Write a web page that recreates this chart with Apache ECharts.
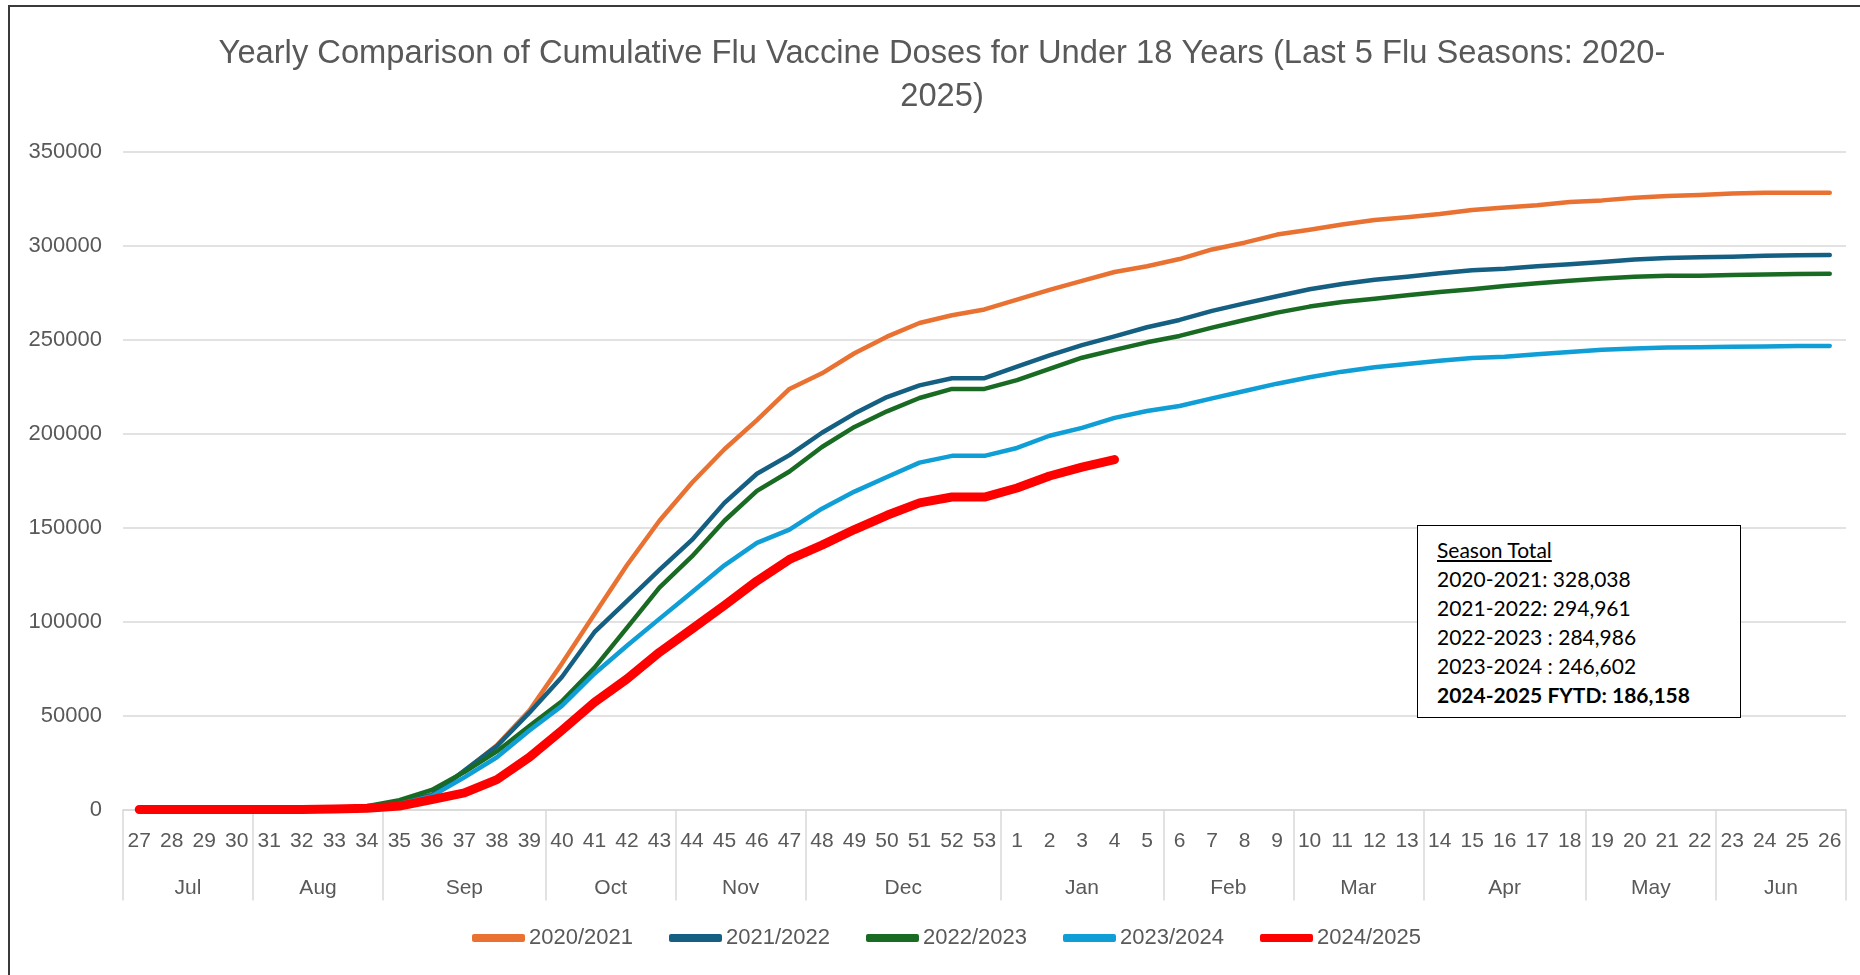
<!DOCTYPE html>
<html>
<head>
<meta charset="utf-8">
<title>Flu Vaccine Doses Under 18</title>
<script src="https://cdn.jsdelivr.net/npm/echarts@6/dist/echarts.min.js"></script>
<style>
  html, body { margin: 0; padding: 0; background: #fff; }
  #wrap { position: relative; width: 1860px; height: 975px; overflow: hidden; }
  #chart { position: absolute; left: 0; top: 0; width: 1860px; height: 975px; }
  #frame { position: absolute; left: 8px; top: 5px; width: 1900px; height: 1000px;
           border-left: 2px solid #3a3a3a; border-top: 2px solid #3a3a3a; pointer-events: none; }
  #totals { position: absolute; left: 1417px; top: 525px; width: 324px; height: 193px;
            box-sizing: border-box; border: 1.5px solid #000; background: #fff;
            padding: 9px 0 0 19px; font-family: Lato, 'Noto Sans', sans-serif;
            font-size: 21px; line-height: 29px; color: #000; }
  #totals .head { text-decoration: underline; }
  #totals .bold { font-weight: bold; }
</style>
</head>
<body>
<div id="wrap">
  <div id="chart"></div>
  <div id="frame"></div>
  <div id="totals"></div>
</div>
<script>
// week numbers, flu season Jul -> Jun
const weeks = ['27','28','29','30','31','32','33','34','35','36','37','38','39','40','41','42','43',
  '44','45','46','47','48','49','50','51','52','53','1','2','3','4','5','6','7','8','9','10','11',
  '12','13','14','15','16','17','18','19','20','21','22','23','24','25','26'];
const months = ['Jul','Aug','Sep','Oct','Nov','Dec','Jan','Feb','Mar','Apr','May','Jun'];
const weeksPerMonth = [4, 4, 5, 4, 4, 6, 5, 4, 4, 5, 4, 4];

const seasonNames = ['2020/2021', '2021/2022', '2022/2023', '2023/2024', '2024/2025'];
const seasonColors = ['#E97132', '#156082', '#196B24', '#0F9ED5', '#FF0000'];

const s2020 = [0,0,0,0,0,100,300,1000,3500,8000,20500,34200,52700,77600,103800,129900,153600,
  173800,191600,207100,223700,232000,242700,251500,258800,262900,266000,271200,276400,281200,
  285900,289000,292800,297900,301500,305800,308400,311200,313600,315000,316700,318900,320200,
  321400,323100,324000,325400,326300,326800,327600,328000,328000,328038];
const s2021 = [0,0,0,0,0,100,300,1200,4000,7600,20700,33700,51500,70500,94300,110900,127500,
  143400,163100,178600,188500,200400,210600,219400,225600,229400,229400,235600,241500,247000,
  251700,256500,260400,265200,269200,273000,276700,279500,281800,283400,285200,286800,287600,
  288900,290000,291200,292600,293300,293700,294000,294600,294800,294961];
const s2022 = [0,0,0,0,0,200,500,1700,5000,10400,19900,30900,44400,57500,75300,96600,118000,
  134600,153600,169500,179800,192800,203500,211800,218900,223700,223700,228400,234400,240300,
  244500,248500,251900,256300,260400,264300,267500,269900,271700,273500,275300,276700,278400,
  279900,281300,282500,283400,283900,283900,284300,284600,284800,284986];
const s2023 = [0,0,0,0,0,100,300,800,3000,7100,17100,27800,42000,55100,72200,87100,101400,
  115600,129900,141800,148900,160000,169100,176900,184500,188100,188100,192300,198800,203000,
  208300,212000,214600,218700,222600,226500,229900,232900,235200,237000,238700,240200,240800,
  242200,243300,244500,245200,245700,245900,246100,246300,246500,246602];
const s2024 = [0,0,0,0,0,0,200,700,1800,5300,8800,15900,27800,42100,57000,69400,83600,96000,
  108600,121600,133000,140600,148900,156500,163100,166200,166200,171000,177400,182100,186158];

const seriesData = [s2020, s2021, s2022, s2023, s2024];
const totalLabels = ['2020-2021: ', '2021-2022: ', '2022-2023 : ', '2023-2024 : ', '2024-2025 FYTD: '];

const yTicks = [0, 50000, 100000, 150000, 200000, 250000, 300000, 350000];

// month group edges and centres on a 0..53 scale
let monthEdges = [0];
let monthMids = [];
weeksPerMonth.forEach((n, i) => {
  let start = monthEdges[i];
  monthMids.push(start + n / 2);
  monthEdges.push(start + n);
});

const font = "'Liberation Sans', Arial, sans-serif";
const gray = '#595959';

let myChart = echarts.init(document.getElementById('chart'));
let option = {
  animation: false,
  backgroundColor: '#fff',
  title: {
    text: 'Yearly Comparison of Cumulative Flu Vaccine Doses for Under 18 Years (Last 5 Flu Seasons: 2020-\n2025)',
    left: 942,
    textAlign: 'center',
    top: 32,
    padding: 0,
    textStyle: {
      fontFamily: font,
      fontSize: 32.7,
      fontWeight: 'normal',
      color: gray,
      lineHeight: 43
    }
  },
  legend: {
    data: seasonNames,
    left: 467,
    top: 922,
    icon: 'roundRect',
    itemWidth: 53,
    itemHeight: 8,
    itemGap: 36,
    textStyle: { fontFamily: font, fontSize: 22, color: gray, padding: [0, 0, 0, -1] }
  },
  grid: {
    left: 123,
    right: 14,
    top: 151.5,
    bottom: 165.5,
    containLabel: false,
    outerBoundsMode: 'none'
  },
  xAxis: [
    {
      type: 'category',
      data: weeks,
      boundaryGap: true,
      axisLine: { lineStyle: { color: '#D9D9D9', width: 1.5 } },
      axisTick: { show: false },
      axisLabel: { interval: 0, margin: 21, fontFamily: font, fontSize: 21, color: gray },
      splitLine: { show: false }
    },
    {
      type: 'value',
      min: 0,
      max: weeks.length,
      position: 'bottom',
      axisLine: { show: false },
      axisTick: {
        show: true,
        length: 91,
        customValues: monthEdges,
        lineStyle: { color: '#D9D9D9', width: 1.5 }
      },
      axisLabel: {
        customValues: monthMids,
        formatter: (v) => months[monthMids.indexOf(v)],
        margin: 68,
        fontFamily: font,
        fontSize: 21,
        color: gray
      },
      splitLine: { show: false }
    }
  ],
  yAxis: {
    type: 'value',
    min: yTicks[0],
    max: yTicks[yTicks.length - 1],
    interval: 50000,
    axisLine: { show: false },
    axisTick: { show: false },
    axisLabel: {
      margin: 21,
      fontFamily: font,
      fontSize: 22,
      color: gray,
      formatter: (v) => String(v)
    },
    splitLine: { lineStyle: { color: '#D9D9D9', width: 1.5 } }
  },
  series: seriesData.map((d, i) => ({
    name: seasonNames[i],
    type: 'line',
    xAxisIndex: 0,
    data: d,
    smooth: false,
    showSymbol: false,
    symbol: 'none',
    color: seasonColors[i],
    lineStyle: {
      color: seasonColors[i],
      width: i === 4 ? 9 : 4.5,
      cap: 'round',
      join: 'round'
    },
    z: 2 + i
  }))
};
myChart.setOption(option);

// season totals box, filled from the last value of each season
let box = document.getElementById('totals');
let html = '<div class="head">Season Total</div>';
seriesData.forEach((d, i) => {
  let txt = totalLabels[i] + d[d.length - 1].toLocaleString('en-US');
  html += '<div' + (i === 4 ? ' class="bold"' : '') + '>' + txt + '</div>';
});
box.innerHTML = html;
</script>
</body>
</html>
